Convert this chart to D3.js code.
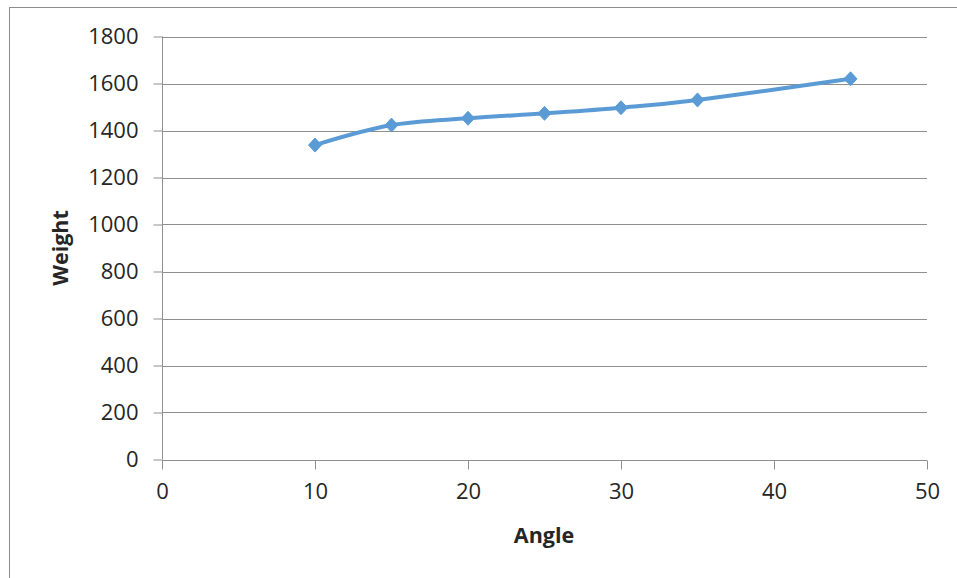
<!DOCTYPE html>
<html><head><meta charset="utf-8">
<script src="https://cdn.jsdelivr.net/npm/d3@7"></script>
<style>
html,body{margin:0;padding:0;background:#fff;}
svg{display:block;}
text{font-family:"Open Sans",sans-serif;fill:#262626;}
</style></head>
<body>
<script>
const angles = [10, 15, 20, 25, 30, 35, 45];
const weights = [1338, 1423, 1452, 1473, 1497, 1530, 1620];
const xTicks = [0, 10, 20, 30, 40, 50];
const yTicks = [0, 200, 400, 600, 800, 1000, 1200, 1400, 1600, 1800];
const xTitle = "Angle";
const yTitle = "Weight";

const W = 957, H = 578;
const svg = d3.select("body").append("svg").attr("width", W).attr("height", H);

// outer chart frame
svg.append("rect").attr("x", 9.5).attr("y", 7.5).attr("width", 960).attr("height", 580)
  .attr("fill", "none").attr("stroke", "#8c8c8c").attr("stroke-width", 1);

const x = d3.scaleLinear().domain([0, 50]).range([162, 927]);
const y = d3.scaleLinear().domain([0, 1800]).range([459.5, 36.5]);

// gridlines
svg.append("g").selectAll("line").data(yTicks.filter(d => d > 0)).join("line")
  .attr("x1", x(0)).attr("x2", x(50))
  .attr("y1", d => Math.round(y(d)) + 0.5).attr("y2", d => Math.round(y(d)) + 0.5)
  .attr("stroke", "#8f8f8f").attr("stroke-width", 1);

// y axis
const yAxis = svg.append("g").attr("transform", `translate(${x(0) + 0.5},0)`)
  .call(d3.axisLeft(y).tickValues(yTicks).tickFormat(d3.format("d")).tickSize(9).tickPadding(15));
// x axis
const xAxis = svg.append("g").attr("transform", `translate(0,${Math.round(y(0)) + 0.5})`)
  .call(d3.axisBottom(x).tickValues(xTicks).tickFormat(d3.format("d")).tickSize(9).tickPadding(14));

[yAxis, xAxis].forEach(a => {
  a.select(".domain").attr("stroke", "#8f8f8f");
  a.selectAll(".tick line").attr("stroke", "#8f8f8f");
  a.selectAll(".tick text").attr("font-family", "Open Sans, sans-serif")
    .attr("font-size", 22).attr("fill", "#222");
});
yAxis.select(".domain").attr("d", `M0,${y(1800)}V${y(0)}`);
xAxis.select(".domain").attr("d", `M${x(0)},0H${x(50)}`);
yAxis.selectAll(".tick line").attr("x1", -9).attr("x2", 0);
xAxis.selectAll(".tick line").attr("y1", 0).attr("y2", 9);

// axis titles
svg.append("text").attr("x", 544).attr("y", 543).attr("text-anchor", "middle")
  .attr("font-size", 21.5).attr("font-weight", "bold").attr("fill", "#111").text(xTitle);
svg.append("text").attr("transform", "translate(68,248) rotate(-90)").attr("text-anchor", "middle")
  .attr("font-size", 21.5).attr("font-weight", "bold").attr("fill", "#111").text(yTitle);

const data = angles.map((a, i) => ({a, w: weights[i]}));
const line = d3.line().x(d => x(d.a)).y(d => y(d.w)).curve(d3.curveCatmullRom.alpha(0));
svg.append("path").datum(data).attr("d", line)
  .attr("fill", "none").attr("stroke", "#5b9bd5").attr("stroke-width", 4)
  .attr("stroke-linejoin", "round").attr("stroke-linecap", "round");

svg.append("g").selectAll("path").data(data).join("path")
  .attr("transform", d => `translate(${x(d.a)},${y(d.w)})`)
  .attr("d", "M0,-7L6.5,0L0,7L-6.5,0Z")
  .attr("fill", "#5b9bd5").attr("stroke", "#5b9bd5").attr("stroke-width", 1);
</script>
</body></html>
